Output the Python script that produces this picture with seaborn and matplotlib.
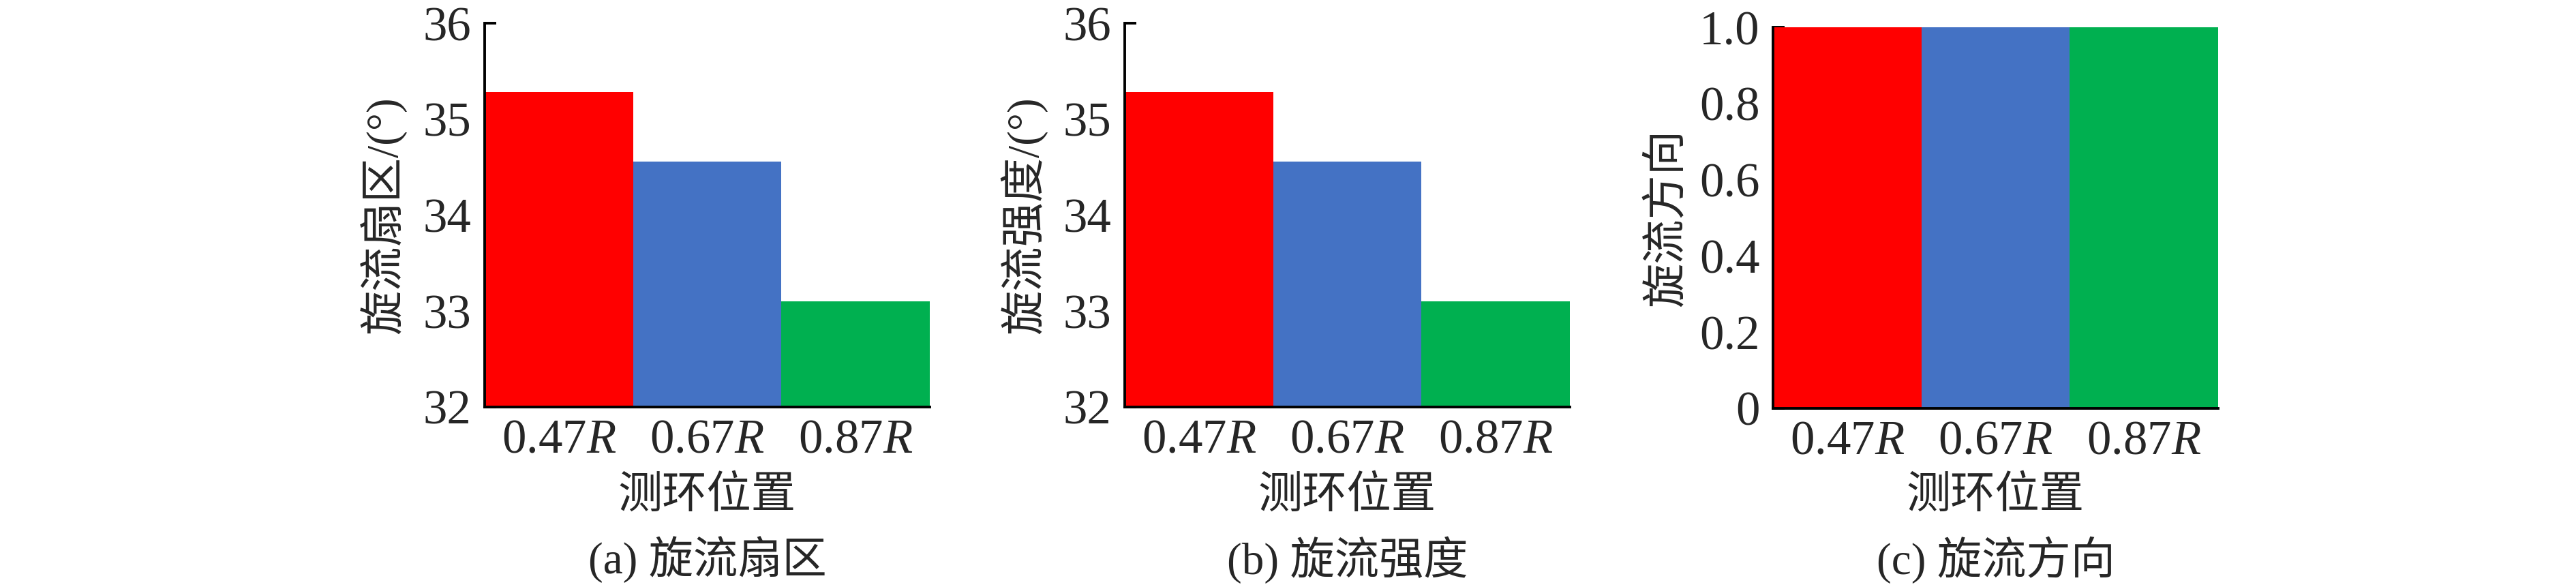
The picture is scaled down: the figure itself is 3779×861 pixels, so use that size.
import numpy as np
import pandas as pd
import matplotlib.pyplot as plt
import seaborn as sns

# data
positions = ['0.47$R$', '0.67$R$', '0.87$R$']
swirl_sector = [35.28, 34.56, 33.10]
swirl_strength = [35.28, 34.56, 33.10]
swirl_direction = [1.0, 1.0, 1.0]
bar_colors = ['#FF0000', '#4472C4', '#00B050']

sector_ticks = [32, 33, 34, 35, 36]
direction_ticks = [0, 0.2, 0.4, 0.6, 0.8, 1.0]
direction_labels = ['0', '0.2', '0.4', '0.6', '0.8', '1.0']

sns.set_style('ticks')
plt.rcParams['font.family'] = ['Liberation Serif', 'Noto Sans CJK SC']
plt.rcParams['mathtext.fontset'] = 'custom'
plt.rcParams['mathtext.rm'] = 'Liberation Serif'
plt.rcParams['mathtext.it'] = 'Liberation Serif:italic'

FS = 47       # chinese labels
TFS = 51      # tick labels
W, H = 3780, 861

fig = plt.figure(figsize=(W / 100, H / 100), dpi=100)

panels = [
    # left px, top px, bottom px, values, ylabel, caption, ylim, yticks, ylabel x
    (711, 34, 597, swirl_sector, '旋流扇区/(°)', '(a) 旋流扇区', (32, 36),
     sector_ticks, [str(t) for t in sector_ticks], -0.228),
    (1650, 34, 597, swirl_strength, '旋流强度/(°)', '(b) 旋流强度', (32, 36),
     sector_ticks, [str(t) for t in sector_ticks], -0.227),
    (2601, 40, 599, swirl_direction, '旋流方向', '(c) 旋流方向', (0, 1),
     direction_ticks, direction_labels, -0.236),
]

for left, top, bottom, vals, ylab, cap, ylim, yt, ytl, ylx in panels:
    ax = fig.add_axes([left / W, (H - bottom) / H, 653 / W, (bottom - top) / H])
    df = pd.DataFrame({'pos': positions, 'val': vals})
    sns.barplot(data=df, x='pos', y='val', hue='pos', palette=bar_colors,
                saturation=1, width=1, linewidth=0, legend=False, ax=ax)
    ax.set_xlim(-0.5, 2.5)
    ax.set_ylim(*ylim)
    ax.set_yticks(yt)
    ax.set_yticklabels(ytl)
    sns.despine(ax=ax)
    for s in ['left', 'bottom']:
        ax.spines[s].set_linewidth(2.8)
        ax.spines[s].set_color('black')
        ax.spines[s].set_zorder(5)
    ax.tick_params(axis='y', direction='in', length=12, width=2.8,
                   labelsize=TFS, pad=14, color='black')
    ax.tick_params(axis='x', direction='in', length=12, width=2.8,
                   labelsize=TFS, pad=12, color='black')
    ax.set_xlabel('测环位置', fontsize=FS)
    ax.xaxis.label.set_va('center')
    ax.xaxis.set_label_coords(0.5, (bottom - 729) / (bottom - top))
    ax.set_ylabel(ylab, fontsize=FS)
    ax.yaxis.label.set_va('center')
    ax.yaxis.set_label_coords(ylx, 0.5)
    ax.text(0.5, (bottom - 821) / (bottom - top), cap, transform=ax.transAxes,
            ha='center', va='center', fontsize=FS)

fig.savefig('out.png', dpi=100, facecolor='white')
